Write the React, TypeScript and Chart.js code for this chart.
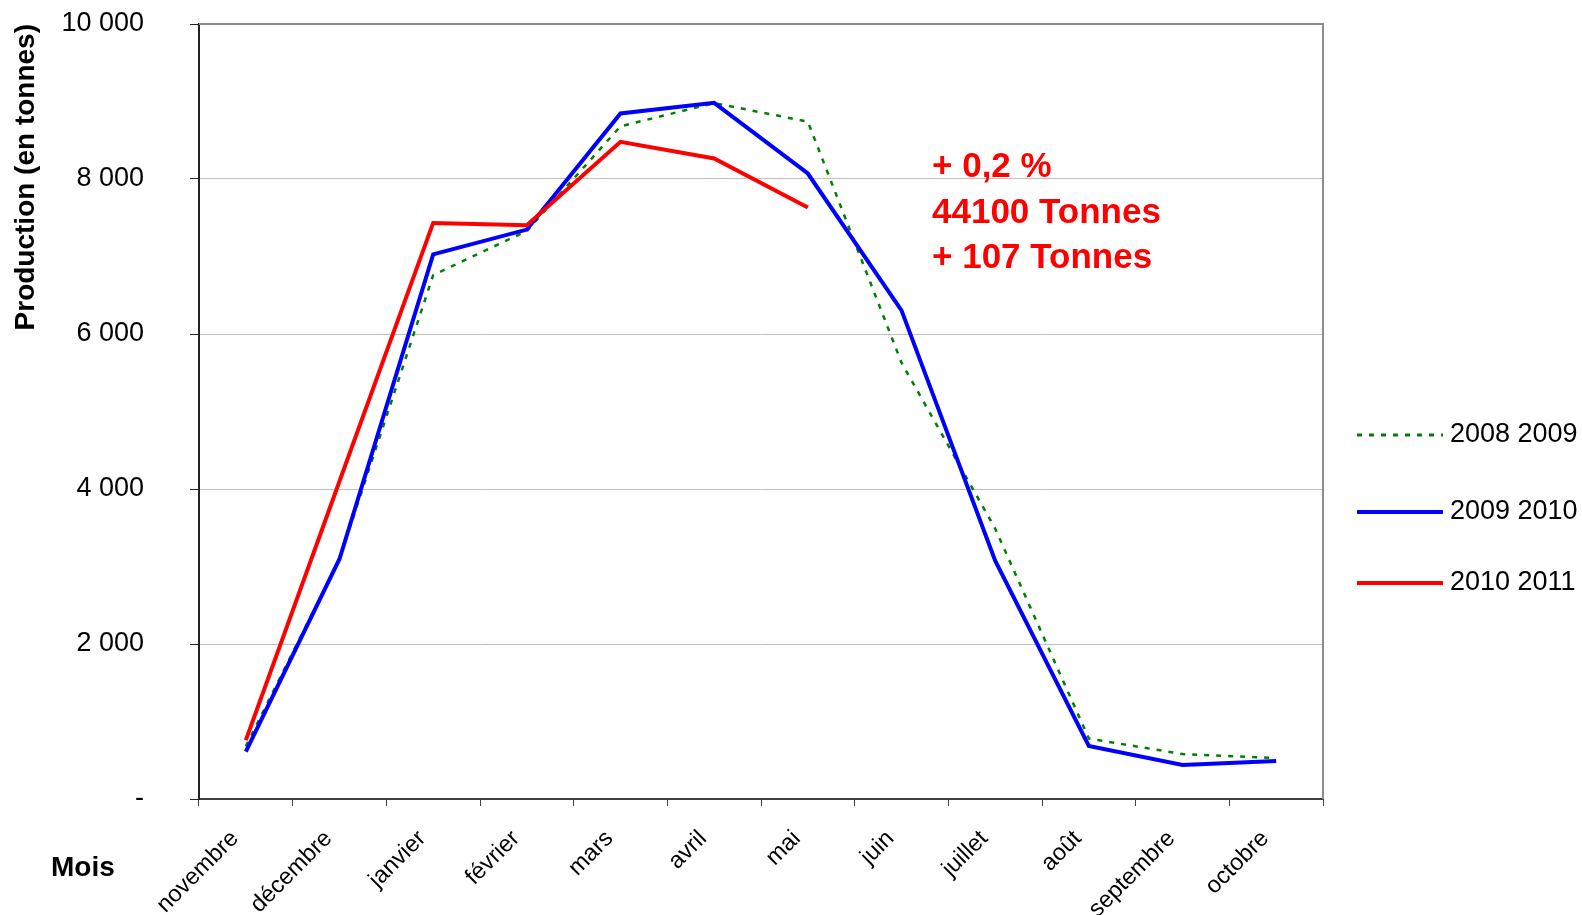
import React, { useEffect, useRef } from 'react';
import { Chart, registerables } from 'chart.js';

Chart.register(...registerables);

const MONTHS = ['novembre', 'décembre', 'janvier', 'février', 'mars', 'avril', 'mai', 'juin', 'juillet', 'août', 'septembre', 'octobre'];
const SERIES_LABELS = ['2008 2009', '2009 2010', '2010 2011'];
const VALUES_2008_2009 = [680, 3100, 6760, 7330, 8680, 8980, 8740, 5630, 3490, 780, 580, 530];
const VALUES_2009_2010 = [611, 3097, 7028, 7347, 8846, 8983, 8071, 6305, 3075, 685, 439, 491];
const VALUES_2010_2011 = [760, 4100, 7433, 7403, 8480, 8265, 7632, null, null, null, null, null];
const Y_TICKS = [0, 2000, 4000, 6000, 8000, 10000];
const ANNOTATION_LINES = ['+ 0,2 %', '44100 Tonnes', '+ 107 Tonnes'];
const Y_TITLE = 'Production (en tonnes)';
const X_TITLE = 'Mois';

const FONT = '"Liberation Sans", Arial, sans-serif';

function fmt(v: number): string {
  if (v === 0) return '-';
  return String(v).replace(/\B(?=(\d{3})+(?!\d))/g, ' ');
}

const decorPlugin = {
  id: 'decor',
  beforeDatasetsDraw(chart: any) {
    const { ctx, chartArea: a } = chart;
    ctx.save();
    ctx.strokeStyle = '#8c8c8c';
    ctx.lineWidth = 2;
    ctx.beginPath();
    ctx.moveTo(a.left, a.top);
    ctx.lineTo(a.right, a.top);
    ctx.lineTo(a.right, a.bottom);
    ctx.stroke();
    ctx.restore();
  },
  afterDraw(chart: any) {
    const { ctx } = chart;
    ctx.save();
    const ys = [435, 512, 583];
    chart.data.datasets.forEach((ds: any, i: number) => {
      ctx.strokeStyle = ds.borderColor;
      ctx.lineWidth = i === 0 ? 3 : ds.borderWidth;
      ctx.setLineDash(ds.borderDash || []);
      ctx.beginPath();
      ctx.moveTo(1357, ys[i]);
      ctx.lineTo(1443, ys[i]);
      ctx.stroke();
      ctx.setLineDash([]);
      ctx.fillStyle = '#000';
      ctx.font = `27px ${FONT}`;
      ctx.textBaseline = 'middle';
      ctx.textAlign = 'left';
      ctx.fillText(ds.label, 1450, ys[i]);
    });
    ctx.fillStyle = '#ff0000';
    ctx.font = `bold 35px ${FONT}`;
    ctx.textBaseline = 'alphabetic';
    ctx.textAlign = 'left';
    ANNOTATION_LINES.forEach((t, i) => ctx.fillText(t, 932, 177 + i * 45.5));
    ctx.fillStyle = '#000';
    ctx.font = `bold 28px ${FONT}`;
    ctx.fillText(X_TITLE, 51, 876);
    ctx.restore();
  },
};

export default function App() {
  const ref = useRef<HTMLCanvasElement | null>(null);

  useEffect(() => {
    document.body.style.margin = '0';
    const canvas = ref.current;
    if (!canvas) return;
    const chart = new Chart(canvas, {
      type: 'line',
      data: {
        labels: MONTHS,
        datasets: [
          {
            label: SERIES_LABELS[0],
            data: VALUES_2008_2009,
            borderColor: '#008000',
            borderWidth: 2.5,
            borderDash: [5, 7],
            pointRadius: 0,
            tension: 0,
            fill: false,
            order: 3,
          },
          {
            label: SERIES_LABELS[1],
            data: VALUES_2009_2010,
            borderColor: '#0000ff',
            borderWidth: 4,
            pointRadius: 0,
            tension: 0,
            fill: false,
            order: 2,
          },
          {
            label: SERIES_LABELS[2],
            data: VALUES_2010_2011,
            borderColor: '#ff0000',
            borderWidth: 4,
            pointRadius: 0,
            tension: 0,
            fill: false,
            spanGaps: false,
            order: 1,
          },
        ],
      },
      options: {
        responsive: false,
        animation: false,
        layout: { padding: { left: 0, top: 24, right: 259, bottom: 0 } },
        plugins: {
          legend: { display: false },
          tooltip: { enabled: false },
          title: { display: false },
        },
        scales: {
          x: {
            type: 'category',
            offset: true,
            afterFit: (scale: any) => {
              scale.height = 116;
            },
            grid: {
              display: true,
              drawOnChartArea: false,
              drawTicks: true,
              tickLength: 7,
              tickColor: '#404040',
              offset: true,
            },
            border: { display: true, color: '#404040', width: 2 },
            ticks: {
              autoSkip: false,
              maxRotation: 45,
              minRotation: 45,
              padding: 19,
              labelOffset: -11,
              color: '#000',
              font: { family: FONT, size: 23.5 },
            },
          },
          y: {
            min: 0,
            max: 10000,
            afterBuildTicks: (scale: any) => {
              scale.ticks = Y_TICKS.map((v) => ({ value: v }));
            },
            afterFit: (scale: any) => {
              scale.width = 199;
              scale.paddingTop = 16;
              scale.paddingBottom = 16;
            },
            grid: {
              color: '#c0c0c0',
              lineWidth: 1,
              drawTicks: true,
              tickLength: 9,
              tickColor: '#222',
            },
            border: { display: true, color: '#222', width: 2 },
            ticks: {
              padding: 46,
              color: '#000',
              font: { family: FONT, size: 27 },
              callback: (v: any) => fmt(Number(v)),
            },
            title: {
              display: true,
              text: Y_TITLE,
              align: 'end',
              color: '#000',
              padding: { top: 9, bottom: 0 },
              font: { family: FONT, size: 28, weight: 'bold' },
            },
          },
        },
      },
      plugins: [decorPlugin],
    });
    return () => chart.destroy();
  }, []);

  return (
    <div style={{ width: 1582, height: 915, background: '#fff' }}>
      <canvas ref={ref} width={1582} height={915} style={{ display: 'block' }} />
    </div>
  );
}
